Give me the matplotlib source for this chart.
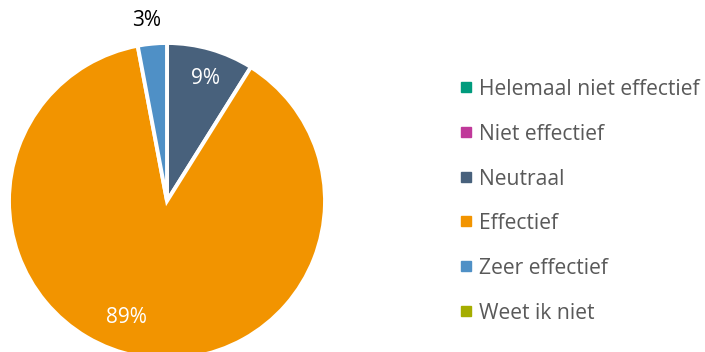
import matplotlib
matplotlib.use("Agg")
import matplotlib.pyplot as plt
import numpy as np

categories = ["Helemaal niet effectief", "Niet effectief", "Neutraal",
              "Effectief", "Zeer effectief", "Weet ik niet"]
values = [0, 0, 9, 89, 3, 0]
colors = ["#009B7D", "#C0399A", "#48617C", "#F29400", "#4F90C6", "#A5AD00"]
label_colors = ["white", "white", "white", "white", "black", "white"]

plt.rcParams["font.family"] = ["Open Sans", "DejaVu Sans"]

W, H = 705, 352
fig = plt.figure(figsize=(W / 100, H / 100), dpi=100)

# pie axes: centre (167, 201) px, radius 158 px
cx, cy, r = 167, 201, 158
ax = fig.add_axes([(cx - r) / W, (H - cy - r) / H, 2 * r / W, 2 * r / H])

shown = [(c, v, col, lc) for c, v, col, lc in zip(categories, values, colors, label_colors) if v > 0]
vals = [s[1] for s in shown]
wedges, _ = ax.pie(vals, colors=[s[2] for s in shown], startangle=90, counterclock=False,
                   radius=1.0, wedgeprops=dict(edgecolor="white", linewidth=2.8))
ax.set_xlim(-1, 1)
ax.set_ylim(-1, 1)
ax.set_aspect("equal")
ax.axis("off")

# data labels (angle offset in degrees, radial distance)
offsets = {"Neutraal": (-1.5, 0.81), "Effectief": (-8.5, 0.78), "Zeer effectief": (1.0, 1.15)}
for w, (name, v, col, lc) in zip(wedges, shown):
    mid = (w.theta1 + w.theta2) / 2 + offsets[name][0]
    d = offsets[name][1]
    x, y = d * np.cos(np.radians(mid)), d * np.sin(np.radians(mid))
    ax.text(x, y, f"{v}%", ha="center", va="center", color=lc, fontsize=15,
            clip_on=False)

# legend: square swatch + label per category
leg_x, leg_y0, leg_dy = 466, 87, 44.8
for i, (name, col) in enumerate(zip(categories, colors)):
    yy = 1 - (leg_y0 + i * leg_dy) / H
    fig.lines.append(plt.Line2D([leg_x / W], [yy], marker="s", markersize=6.5,
                                markerfacecolor=col, markeredgecolor=col,
                                linestyle="none", transform=fig.transFigure))
    fig.text((leg_x + 13) / W, yy, name, ha="left", va="center_baseline",
             fontsize=15.2, color="#595959")

fig.savefig("out.png", dpi=100)
